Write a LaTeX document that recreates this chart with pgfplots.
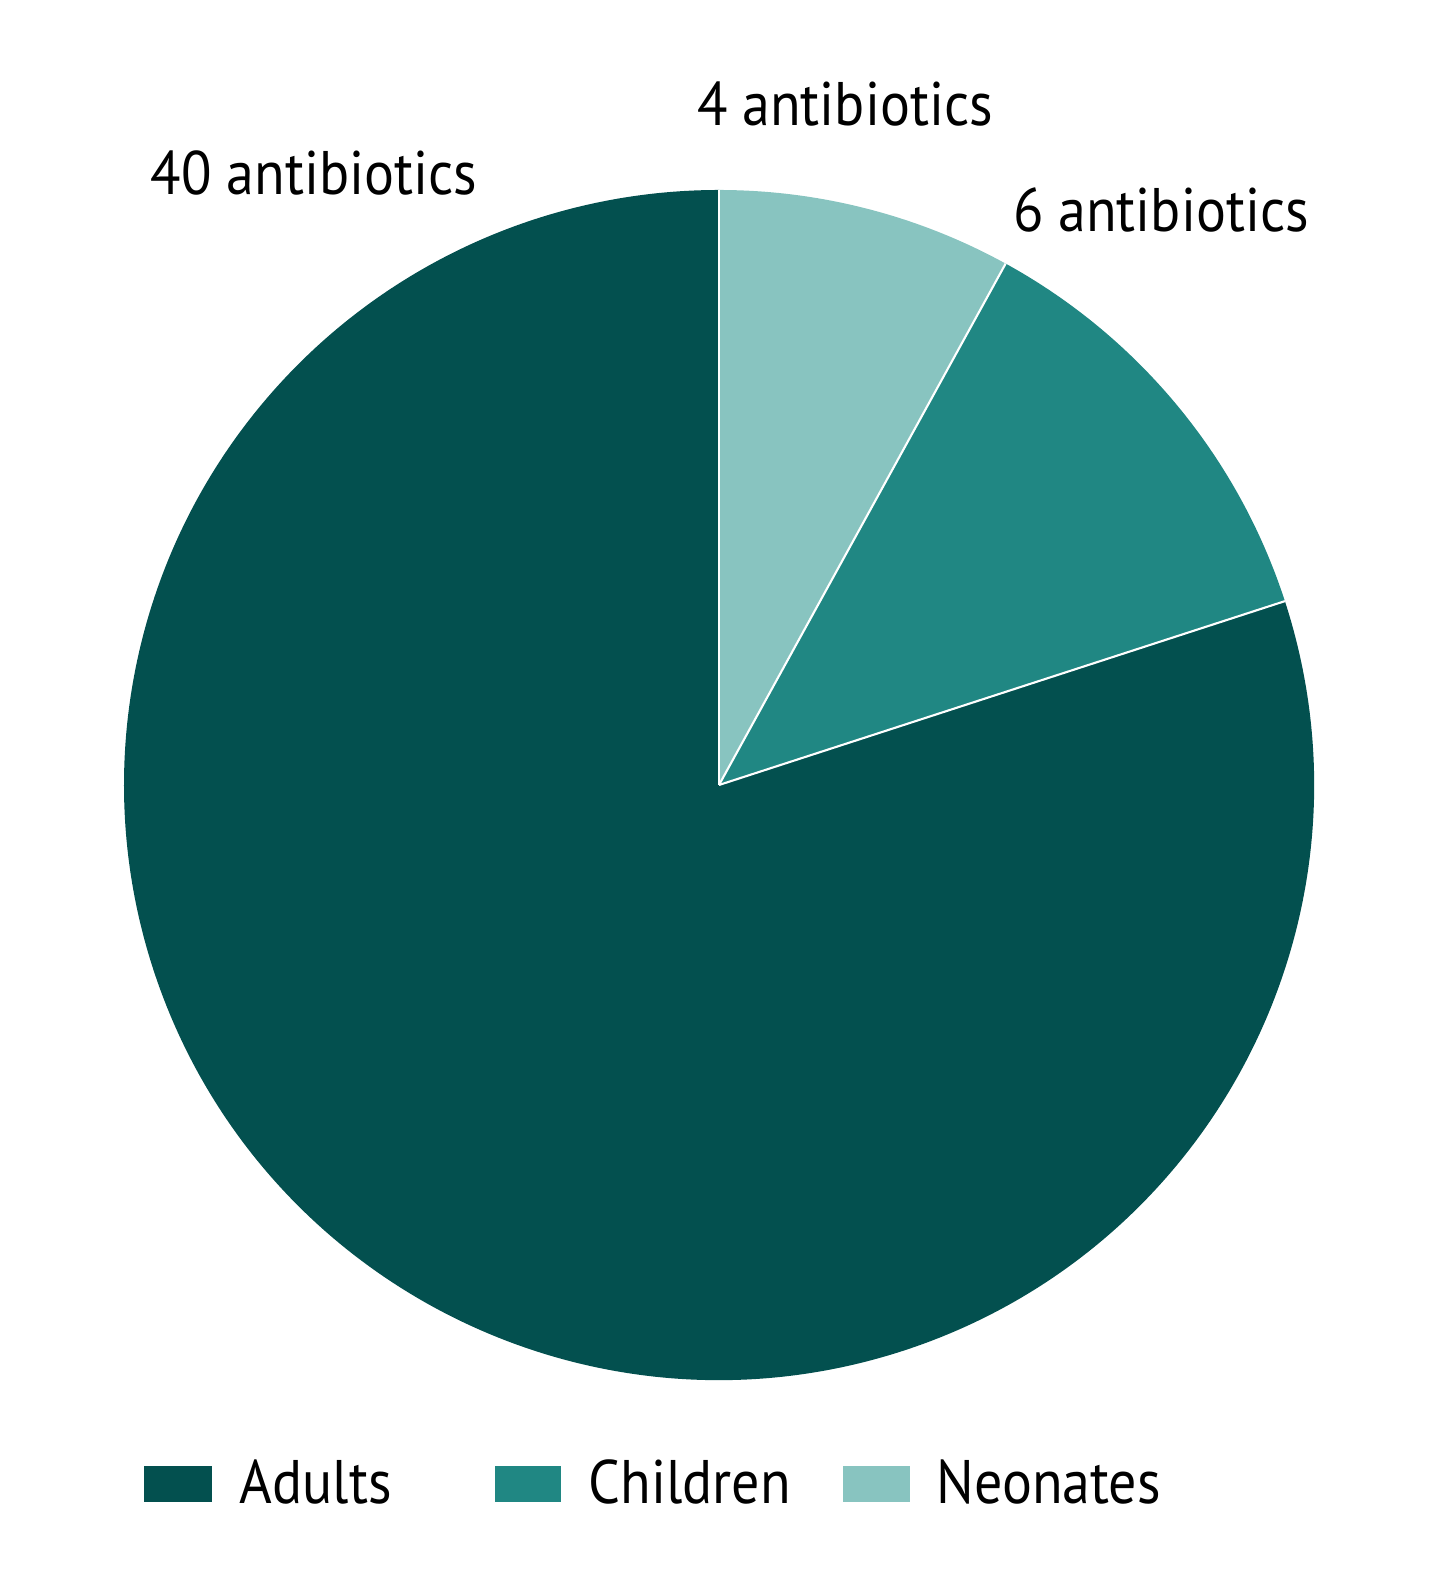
\documentclass[border=0pt]{standalone}
\usepackage{pgfplots}
\usepackage{pgfplotstable}
\pgfplotsset{compat=1.18}
\usepackage{fontspec}
\setmainfont{PT Sans}[FakeStretch=0.91]

\definecolor{adultc}{HTML}{03504F}
\definecolor{childc}{HTML}{208783}
\definecolor{neoc}{HTML}{88C4C0}

\pgfplotstableread{
group value
Adults 40
Children 6
Neonates 4
}\piedata

\begin{document}
\begin{tikzpicture}
% angles from the data, clockwise from 12 o'clock: neonates, children, adults
\pgfplotstablegetelem{0}{value}\of\piedata \let\vA\pgfplotsretval
\pgfplotstablegetelem{1}{value}\of\piedata \let\vB\pgfplotsretval
\pgfplotstablegetelem{2}{value}\of\piedata \let\vC\pgfplotsretval
\pgfmathsetmacro\tot{\vA+\vB+\vC}
\pgfmathsetmacro\aN{90-360*\vC/\tot}
\pgfmathsetmacro\aC{\aN-360*\vB/\tot}
\def\R{5.95cm}
\begin{axis}[
  at={(0,0)}, anchor=center,
  scale only axis,
  width=11.9cm, height=11.9cm,
  xmin=-1, xmax=1, ymin=-1, ymax=1,
  hide axis,
]
\fill[neoc] (axis cs:0,0) -- ++(90:\R) arc[start angle=90, end angle=\aN, radius=\R] -- cycle;
\fill[childc] (axis cs:0,0) -- ++(\aN:\R) arc[start angle=\aN, end angle=\aC, radius=\R] -- cycle;
\fill[adultc] (axis cs:0,0) -- ++(\aC:\R) arc[start angle=\aC, end angle=-270, radius=\R] -- cycle;
\draw[white, line width=0.6pt] (axis cs:0,0) -- ++(90:\R);
\draw[white, line width=0.6pt] (axis cs:0,0) -- ++(\aN:\R);
\draw[white, line width=0.6pt] (axis cs:0,0) -- ++(\aC:\R);
\end{axis}

\begin{scope}[every node/.style={font=\fontsize{17.5}{20}\selectfont, inner sep=0pt}]
\node[anchor=base] at (-4.05,5.90) {40 antibiotics};
\node[anchor=base] at (1.26,6.59) {4 antibiotics};
\node[anchor=base] at (4.42,5.53) {6 antibiotics};

\fill[adultc] (-5.75,-7.17) rectangle (-5.07,-6.81);
\node[anchor=base west] at (-4.80,-7.18) {Adults};
\fill[childc] (-2.24,-7.17) rectangle (-1.58,-6.81);
\node[anchor=base west] at (-1.31,-7.18) {Children};
\fill[neoc] (1.24,-7.17) rectangle (1.91,-6.81);
\node[anchor=base west] at (2.17,-7.18) {Neonates};
\end{scope}

\pgfresetboundingbox
\useasboundingbox (-7.19,-7.98) rectangle (7.22,7.85);
\end{tikzpicture}
\end{document}
